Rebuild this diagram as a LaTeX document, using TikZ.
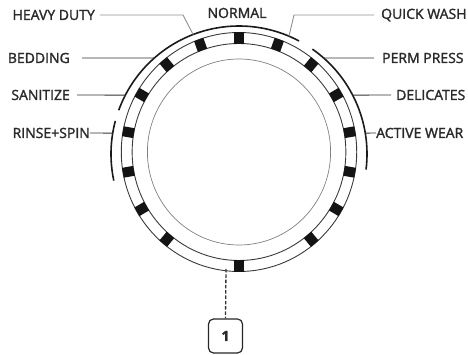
\documentclass[tikz,border=0pt]{standalone}
\usepackage{fontspec}
\setmainfont{Open Sans}[FakeBold=1.7]
\usetikzlibrary{calc}
\definecolor{txt}{HTML}{2A2A2A}
\definecolor{ringc}{HTML}{3A3A3A}
\definecolor{innerc}{HTML}{808080}
\definecolor{arcc}{HTML}{1A1A1A}
\definecolor{leadd}{HTML}{333333}
\definecolor{leadl}{HTML}{909090}
\begin{document}
\begin{tikzpicture}[x=1pt,y=1pt,
  lab/.style={inner sep=0pt, text=txt, font=\fontsize{14}{14}\selectfont},
  ringline/.style={draw=ringc, line width=0.9pt},
  innerline/.style={draw=innerc, line width=0.7pt},
  selarc/.style={draw=arcc, line width=1.6pt},
  leaddark/.style={draw=leadd, line width=0.9pt},
  leadlight/.style={draw=leadl, line width=0.9pt},
  mk/.style={fill=black!92},
  callout/.style={draw=black!85, line width=1.2pt, rounded corners=5pt, minimum width=34pt, minimum height=34pt, inner sep=0pt, font=\fontsize{14}{14}\selectfont\bfseries, text=txt}
]
\useasboundingbox (0,0) rectangle (468,355);
\coordinate (R) at (239,203);
\coordinate (A) at (239,201);
% dial
\begin{scope}[shift={(R)}, xscale=0.985]
  \draw[ringline] (0,0) circle[radius=119.5];
  \draw[ringline] (0,0) circle[radius=108.5];
  \draw[innerline] (0,0) circle[radius=93];
  \foreach \a in {90,70,50,30,10,-10,-30,-50,110,130,150,170,190,210,230,270}
    \fill[mk, rotate=\a] (108.3,-5) rectangle (119.7,5);
\end{scope}
% selector arcs
\draw[selarc] ($(A)+(160:128)$) arc[start angle=160, end angle=62, radius=128];
\draw[selarc] ($(A)+(55:128)$) arc[start angle=55, end angle=-7, radius=128];
\draw[selarc] ($(A)+(165:128)$) arc[start angle=165, end angle=192, radius=128];
% arc points for leaders
\coordinate (pHD) at ($(A)+(111:128)$);
\coordinate (pQW) at ($(A)+(67:128)$);
\coordinate (pBE) at ($(A)+(131.4:128)$);
\coordinate (pSA) at ($(A)+(152.6:128)$);
\coordinate (pRS) at ($(A)+(170.6:128)$);
\coordinate (pPP) at ($(A)+(48.6:128)$);
\coordinate (pDE) at ($(A)+(27.4:128)$);
\coordinate (pAW) at ($(A)+(9.4:128)$);
\coordinate (kHD) at (183,340);
\coordinate (kQW) at (294,340);
% labels
\node[lab, anchor=east] (hd) at (95,340) {HEAVY DUTY};
\node[lab] (no) at (237,342) {NORMAL};
\node[lab, anchor=west] (qw) at (381,340) {QUICK WASH};
\node[lab, anchor=east] (be) at (70,297) {BEDDING};
\node[lab, anchor=east] (sa) at (70,260) {SANITIZE};
\node[lab, anchor=east] (rs) at (90,222) {RINSE+SPIN};
\node[lab, anchor=west] (pp) at (382,297) {PERM PRESS};
\node[lab, anchor=west] (de) at (396,260) {DELICATES};
\node[lab, anchor=west] (aw) at (376,222) {ACTIVE WEAR};
% leaders
\draw[leadlight] ([xshift=5pt]hd.east) -- (kHD) -- (pHD);
\draw[leadlight] ([xshift=-7pt]qw.west) -- (kQW) -- (pQW);
\draw[leaddark] ([xshift=12pt]be.east) -- (pBE);
\draw[leaddark] ([xshift=7pt]sa.east) -- (pSA);
\draw[leaddark] (rs.east) -- (pRS);
\draw[leaddark] ([xshift=-8pt]pp.west) -- (pPP);
\draw[leaddark] ([xshift=-5pt]de.west) -- (pDE);
\draw[leaddark] (aw.west) -- (pAW);
% callout
\node[callout] (one) at (225.5,19) {1};
\coordinate (dstart) at (226,86);
\draw[draw=black!80, line width=1.3pt, dash pattern=on 3.5pt off 1.8pt] (dstart) -- (one.north);
\end{tikzpicture}
\end{document}
